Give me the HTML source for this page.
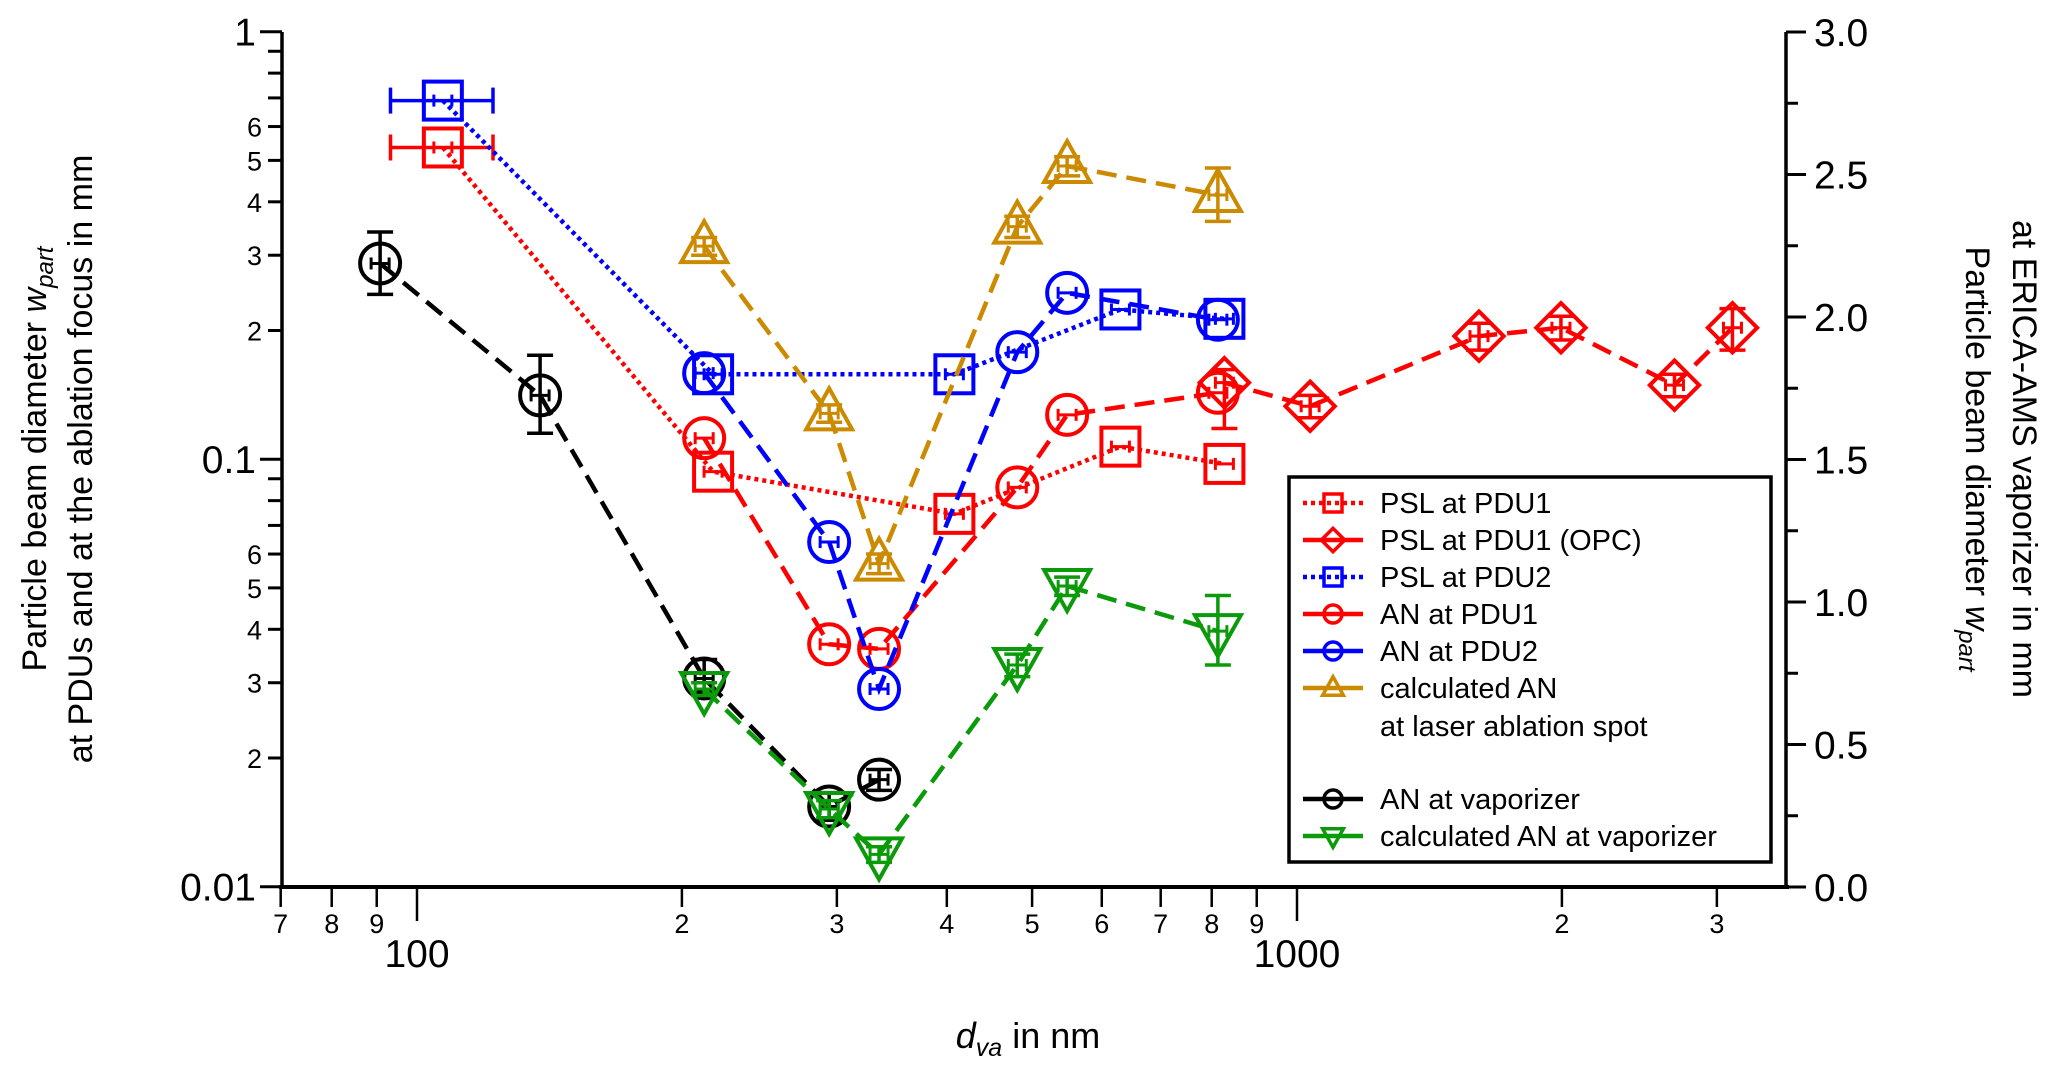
<!DOCTYPE html>
<html><head><meta charset="utf-8">
<style>
html,body{margin:0;padding:0;background:#fff;}
svg{display:block;font-family:"Liberation Sans",Arial,sans-serif;}
</style></head>
<body>
<svg id="chart" width="2067" height="1077" viewBox="0 0 2067 1077" xmlns="http://www.w3.org/2000/svg">
<g id="axes"></g>
<g id="series"></g>
<g id="legend"></g>
<text x="1028" y="1048" font-size="36" text-anchor="middle"><tspan font-style="italic">d</tspan><tspan font-style="italic" font-size="25" dy="8">va</tspan><tspan dy="-8"> in nm</tspan></text>
<text transform="translate(46,459) rotate(-90)" font-size="34" text-anchor="middle">Particle beam diameter <tspan font-style="italic">w</tspan><tspan font-style="italic" font-size="24" dy="7">part</tspan></text>
<text transform="translate(92,459) rotate(-90)" font-size="34" text-anchor="middle">at PDUs and at the ablation focus in mm</text>
<text transform="translate(1966,459) rotate(90)" font-size="34" text-anchor="middle">Particle beam diameter <tspan font-style="italic">w</tspan><tspan font-style="italic" font-size="24" dy="7">part</tspan></text>
<text transform="translate(2013,459) rotate(90)" font-size="34" text-anchor="middle">at ERICA-AMS vaporizer in mm</text>
</svg>
<script>
// ---- data ----
const pslPdu1X = [107, 217, 408, 630, 827];
const pslPdu1Y = [0.536, 0.0935, 0.0745, 0.107, 0.0975];
const pslOpcX = [827, 1035, 1610, 1995, 2685, 3125];
const pslOpcY = [0.151, 0.133, 0.194, 0.203, 0.149, 0.203];
const pslPdu2X = [107, 217, 408, 630, 827];
const pslPdu2Y = [0.69, 0.158, 0.158, 0.224, 0.213];
const anPdu1X = [212, 294, 335, 481, 548, 813];
const anPdu1Y = [0.112, 0.0369, 0.036, 0.0859, 0.127, 0.143];
const anPdu2X = [212, 294, 335, 481, 548, 813];
const anPdu2Y = [0.159, 0.064, 0.029, 0.178, 0.245, 0.212];
const calcAblX = [212, 294, 335, 481, 548, 813];
const calcAblY = [0.315, 0.128, 0.057, 0.35, 0.485, 0.415];
const anVapX = [90.8, 138, 212, 294, 335];
const anVapY = [0.287, 0.141, 0.0307, 0.0154, 0.0178];
const calcVapX = [212, 294, 335, 481, 548, 813];
const calcVapY = [0.029, 0.0152, 0.0119, 0.033, 0.0505, 0.0396];
const anVapErrLo = [0.243, 0.115, 0.0285, 0.0143, 0.0168];
const anVapErrHi = [0.34, 0.175, 0.034, 0.0166, 0.0188];
const pslXErrLo = [93.3, 0, 0, 0, 0];
const pslXErrHi = [122, 0, 0, 0, 0];
const calcVapErrLo = [0.028, 0.0145, 0.0114, 0.031, 0.048, 0.033];
const calcVapErrHi = [0.030, 0.0159, 0.0124, 0.035, 0.053, 0.048];
const calcAblErrLo = [0.30, 0.122, 0.054, 0.33, 0.46, 0.36];
const calcAblErrHi = [0.33, 0.134, 0.06, 0.37, 0.51, 0.48];
const opcErrLo = [0.118, 0.125, 0.18, 0.19, 0.14, 0.18];
const opcErrHi = [0.162, 0.141, 0.208, 0.216, 0.158, 0.225];
const leftMajor = [0.01, 0.1, 1];
const leftMajorLabels = ["0.01", "0.1", "1"];
const minorDigits = [2,3,4,5,6,7,8,9];
const rightTicks = [0, 0.5, 1.0, 1.5, 2.0, 2.5, 3.0];
const rightLabels = ["0.0","0.5","1.0","1.5","2.0","2.5","3.0"];

// ---- scales ----
const X0=417, XDEC=880, Y1=31.7, YDEC=427.5;
const PL=282, PR=1786, PT=32, PB=887;
function sx(v){return X0+XDEC*Math.log10(v/100);}
function sy(v){return Y1-YDEC*Math.log10(v);}
function sr(v){return PB-(PB-PT)*v/3;}
const NS="http://www.w3.org/2000/svg";
function mk(tag,attrs,parent){const e=document.createElementNS(NS,tag);for(const k in attrs)e.setAttribute(k,attrs[k]);parent.appendChild(e);return e;}
const axes=document.getElementById('axes');
const series=document.getElementById('series');
const legend=document.getElementById('legend');

let e;
e=mk('line',{x1:PL,y1:PT,x2:PL,y2:PB,stroke:'#000','stroke-width':3.5},axes);


e=mk('line',{x1:PL-3,y1:PB,x2:PR+3,y2:PB,stroke:'#000','stroke-width':4},axes);


e=mk('line',{x1:PR,y1:PT,x2:PR,y2:PB,stroke:'#000','stroke-width':3.5},axes);



leftMajor.forEach((v,i)=>{
  const y=sy(v);
  mk('line',{x1:PL-22,y1:y,x2:PL,y2:y,stroke:'#000','stroke-width':3},axes);
  e=mk('text',{x:PL-26,y:y+14,'font-size':39,'text-anchor':'end'},axes);
  e.textContent=leftMajorLabels[i];
  
  
  if(i<leftMajor.length-1){
    minorDigits.forEach(d=>{
      const yy=sy(v*d);
      mk('line',{x1:PL-14,y1:yy,x2:PL,y2:yy,stroke:'#000','stroke-width':3},axes);
      if(d<=6){
        e=mk('text',{x:PL-20,y:yy+10,'font-size':27,'text-anchor':'end'},axes);
        e.textContent=String(d);
        
        
      }
    });
  }
});
[70,80,90,100,200,300,400,500,600,700,800,900,1000,2000,3000].forEach(v=>{
  const x=sx(v); const major=(v===100||v===1000);
  mk('line',{x1:x,y1:PB,x2:x,y2:PB+(major?34:20),stroke:'#000','stroke-width':2.5},axes);
  e=mk('text',{x:x,y:major?PB+80:PB+46,'font-size':major?39:27,'text-anchor':'middle'},axes);
  e.textContent=major?String(v):String(v/Math.pow(10,Math.floor(Math.log10(v))));
  
  
});
rightTicks.forEach((v,i)=>{
  const y=sr(v);
  mk('line',{x1:PR,y1:y,x2:PR+20,y2:y,stroke:'#000','stroke-width':3},axes);
  if(i<rightTicks.length-1){const ym=sr(v+0.25);mk('line',{x1:PR,y1:ym,x2:PR+12,y2:ym,stroke:'#000','stroke-width':3},axes);}
  e=mk('text',{x:PR+28,y:y+14,'font-size':39,'text-anchor':'start'},axes);
  e.textContent=rightLabels[i];
  
  
});

function marker(g,type,x,y,color,s,sw){
  sw=sw||4;
  if(type==='square') mk('rect',{x:x-s,y:y-s,width:2*s,height:2*s,fill:'none',stroke:color,'stroke-width':sw},g);
  else if(type==='circle') mk('circle',{cx:x,cy:y,r:s,fill:'none',stroke:color,'stroke-width':sw},g);
  else if(type==='diamond') mk('polygon',{points:`${x},${y-s*1.3} ${x+s*1.3},${y} ${x},${y+s*1.3} ${x-s*1.3},${y}`,fill:'none',stroke:color,'stroke-width':sw},g);
  else if(type==='tri') mk('polygon',{points:`${x},${y-s*1.25} ${x+s*1.15},${y+s*0.8} ${x-s*1.15},${y+s*0.8}`,fill:'none',stroke:color,'stroke-width':sw},g);
  else if(type==='itri') mk('polygon',{points:`${x},${y+s*1.25} ${x+s*1.15},${y-s*0.8} ${x-s*1.15},${y-s*0.8}`,fill:'none',stroke:color,'stroke-width':sw},g);
}
function drawSeries(name,xs,ys,color,dash,type,s,errLo,errHi,xLo,xHi){
  const g=mk('g',{},series);
  
  
  const pts=xs.map((x,i)=>sx(x)+','+sy(ys[i])).join(' ');
  mk('polyline',{points:pts,fill:'none',stroke:color,'stroke-width':4.5,'stroke-dasharray':dash},g);
  xs.forEach((x,i)=>{
    const px=sx(x),py=sy(ys[i]);
    if(errLo&&errHi){const a=sy(errLo[i]),b=sy(errHi[i]);
      mk('line',{x1:px,y1:a,x2:px,y2:b,stroke:color,'stroke-width':3.5},g);
      mk('line',{x1:px-13,y1:a,x2:px+13,y2:a,stroke:color,'stroke-width':3.5},g);
      mk('line',{x1:px-13,y1:b,x2:px+13,y2:b,stroke:color,'stroke-width':3.5},g);}
    if(xLo&&xHi&&xLo[i]>0){const a=sx(xLo[i]),b=sx(xHi[i]);
      mk('line',{x1:a,y1:py,x2:b,y2:py,stroke:color,'stroke-width':3.5},g);
      mk('line',{x1:a,y1:py-13,x2:a,y2:py+13,stroke:color,'stroke-width':3.5},g);
      mk('line',{x1:b,y1:py-13,x2:b,y2:py+13,stroke:color,'stroke-width':3.5},g);}
    mk('line',{x1:px-9,y1:py,x2:px+9,y2:py,stroke:color,'stroke-width':3},g);
    mk('line',{x1:px-9,y1:py-6,x2:px-9,y2:py+6,stroke:color,'stroke-width':3},g);
    mk('line',{x1:px+9,y1:py-6,x2:px+9,y2:py+6,stroke:color,'stroke-width':3},g);
    const m=mk('g',{},g);
    
    
    marker(m,type,px,py,color,s);
  });
}
const RED='#ff0000',BLUE='#0000ff',GOLD='#cc8a00',GREEN='#0a9a0a',BLACK='#000';
drawSeries('psl-pdu1-series',pslPdu1X,pslPdu1Y,RED,'4 4','square',19,null,null,pslXErrLo,pslXErrHi);
drawSeries('psl-pdu2-series',pslPdu2X,pslPdu2Y,BLUE,'4 4','square',19,null,null,pslXErrLo,pslXErrHi);
drawSeries('psl-pdu1-opc-series',pslOpcX,pslOpcY,RED,'20 10','diamond',19,opcErrLo,opcErrHi);
drawSeries('an-pdu1-series',anPdu1X,anPdu1Y,RED,'20 10','circle',20);
drawSeries('an-pdu2-series',anPdu2X,anPdu2Y,BLUE,'20 10','circle',20);
drawSeries('calc-an-ablation-series',calcAblX,calcAblY,GOLD,'20 10','tri',20,calcAblErrLo,calcAblErrHi);
drawSeries('an-vaporizer-series',anVapX,anVapY,BLACK,'20 10','circle',20,anVapErrLo,anVapErrHi);
drawSeries('calc-an-vaporizer-series',calcVapX,calcVapY,GREEN,'20 10','itri',20,calcVapErrLo,calcVapErrHi);

e=mk('rect',{x:1289,y:477,width:482,height:385,fill:'#fff',stroke:'#000','stroke-width':3.5},legend);


const legItems=[
 ['PSL at PDU1',RED,'4 4','square',503],
 ['PSL at PDU1 (OPC)',RED,'18 9','diamond',540],
 ['PSL at PDU2',BLUE,'4 4','square',577],
 ['AN at PDU1',RED,'18 9','circle',614],
 ['AN at PDU2',BLUE,'18 9','circle',651],
 ['calculated AN',GOLD,'18 9','tri',688],
 ['AN at vaporizer',BLACK,'18 9','circle',799],
 ['calculated AN at vaporizer',GREEN,'18 9','itri',836]];
legItems.forEach(it=>{
  const g=mk('g',{},legend);
  
  
  mk('line',{x1:1303,y1:it[4],x2:1363,y2:it[4],stroke:it[1],'stroke-width':4.5,'stroke-dasharray':it[2]==='4 4'?'4 4':'none'},g);
  const m=mk('g',{},g);
  marker(m,it[3],1333,it[4],it[1],9,3.5);
  if(it[3]!=='tri'&&it[3]!=='itri') mk('circle',{cx:1333,cy:it[4],r:0.1,fill:'none'},g);
  const t=mk('text',{x:1380,y:it[4]+10,'font-size':29},g);
  t.textContent=it[0];
});
e=mk('text',{x:1380,y:736,'font-size':29},legend);
e.textContent='at laser ablation spot';


</script>
</body></html>
